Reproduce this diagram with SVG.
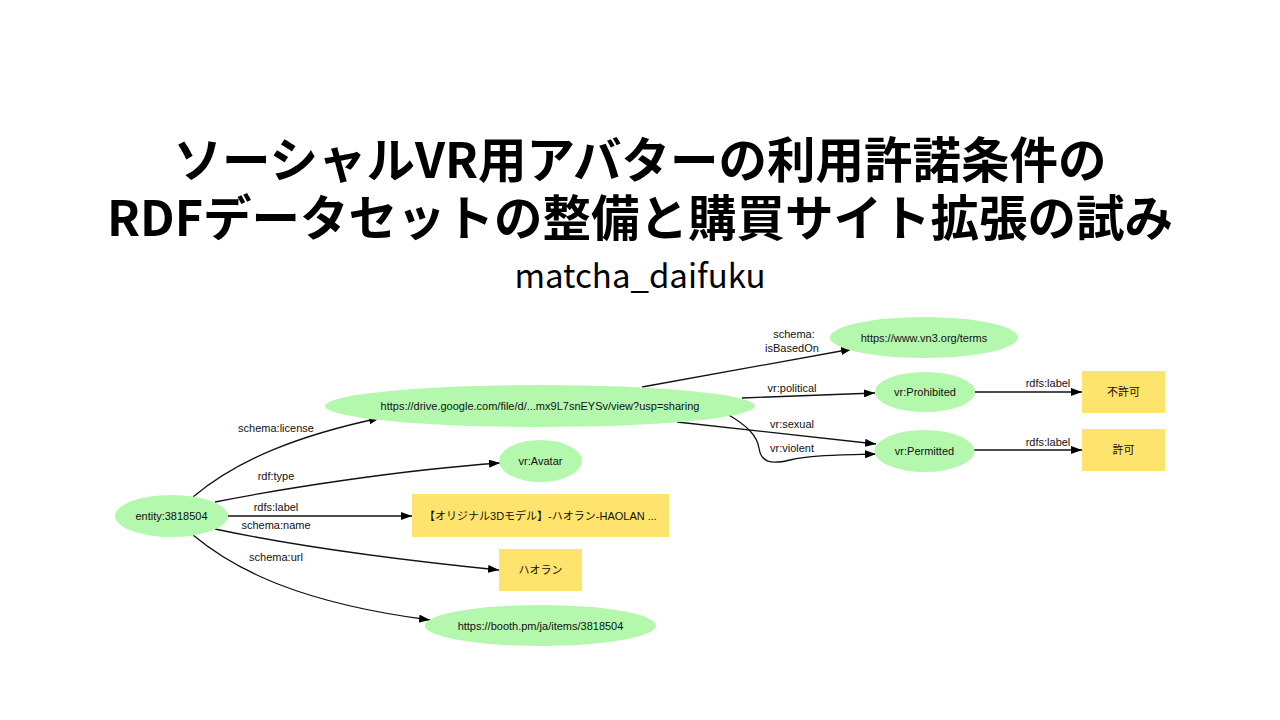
<svg xmlns="http://www.w3.org/2000/svg" width="1280" height="720" viewBox="0 0 1280 720">
<defs>
<style>
.title{font-family:"Noto Sans CJK JP","Noto Sans",sans-serif;font-weight:bold;font-size:48.5px;fill:#000;text-anchor:middle}
.sub{font-family:"Noto Sans CJK JP","Noto Sans",sans-serif;font-size:33px;fill:#000;text-anchor:middle}
.el{fill:#b4f8ad;stroke:none}
.bx{fill:#fee46c;stroke:none}
.t{font-family:"Liberation Sans","Noto Sans CJK JP",sans-serif;font-size:11px;fill:#111;text-anchor:middle}
.e{fill:none;stroke:#111;stroke-width:1.3}
</style>
<marker id="arr" markerUnits="userSpaceOnUse" markerWidth="12" markerHeight="8" refX="11" refY="4" orient="auto" viewBox="0 0 12 8">
<path d="M0,0 L11,4 L0,8 z" fill="#000"/>
</marker>
</defs>
<rect width="1280" height="720" fill="#fff"/>
<text class="title" x="640" y="178">ソーシャルVR用アバターの利用許諾条件の</text>
<text class="title" x="640" y="236">RDFデータセットの整備と購買サイト拡張の試み</text>
<text class="sub" x="640" y="288">matcha_daifuku</text>

<g id="connectors">
<path class="e" marker-end="url(#arr)" d="M193,497 C238,459 300,435 380,418"/>
<path class="e" marker-end="url(#arr)" d="M215,502 C280,489 400,470 500,463"/>
<path class="e" marker-end="url(#arr)" d="M228,516 L412,516"/>
<path class="e" marker-end="url(#arr)" d="M215,529 C290,545 400,560 499,570"/>
<path class="e" marker-end="url(#arr)" d="M193,535 C235,570 300,603 430,620"/>
<path class="e" marker-end="url(#arr)" d="M642,387 L852,349"/>
<path class="e" marker-end="url(#arr)" d="M742,398 L875,393"/>
<path class="e" marker-end="url(#arr)" d="M677,422 L876,444"/>
<path class="e" marker-end="url(#arr)" d="M727,414 C748,426 757,436 759,448 C761,462 770,465 790,460 C810,455 840,455 876,454"/>
<path class="e" marker-end="url(#arr)" d="M975,392 L1082,392"/>
<path class="e" marker-end="url(#arr)" d="M974,450 L1082,450"/>
<text class="t" x="276" y="432">schema:license</text>
<text class="t" x="276" y="480">rdf:type</text>
<text class="t" x="276" y="511">rdfs:label</text>
<text class="t" x="276" y="529">schema:name</text>
<text class="t" x="276" y="561">schema:url</text>
<text class="t" x="794" y="338">schema:</text>
<text class="t" x="792" y="352">isBasedOn</text>
<text class="t" x="792" y="392">vr:political</text>
<text class="t" x="792" y="428">vr:sexual</text>
<text class="t" x="792" y="452">vr:violent</text>
<text class="t" x="1048" y="387">rdfs:label</text>
<text class="t" x="1048" y="446">rdfs:label</text>
</g>

<g id="entity">
<ellipse class="el" cx="171.5" cy="516" rx="56.5" ry="21"/>
<text class="t" x="171.5" y="520">entity:3818504</text>
</g>
<g id="license">
<ellipse class="el" cx="540" cy="406" rx="215" ry="21"/>
<text class="t" x="540" y="410">https://drive.google.com/file/d/...mx9L7snEYSv/view?usp=sharing</text>
</g>
<g id="avatar">
<ellipse class="el" cx="540.5" cy="461" rx="41.5" ry="21"/>
<text class="t" x="540.5" y="465">vr:Avatar</text>
</g>
<g id="label">
<rect class="bx" x="412" y="494" width="257" height="43"/>
<text class="t" x="540.5" y="519.5">【オリジナル3Dモデル】-ハオラン-HAOLAN ...</text>
</g>
<g id="name">
<rect class="bx" x="499" y="549" width="83" height="42"/>
<text class="t" x="540.5" y="574">ハオラン</text>
</g>
<g id="booth">
<ellipse class="el" cx="540.5" cy="625.5" rx="115.5" ry="20.5"/>
<text class="t" x="540.5" y="629.5">https://booth.pm/ja/items/3818504</text>
</g>
<g id="vn3">
<ellipse class="el" cx="924" cy="337.5" rx="94" ry="20.5"/>
<text class="t" x="924" y="341.5">https://www.vn3.org/terms</text>
</g>
<g id="prohibited">
<ellipse class="el" cx="925" cy="392" rx="50" ry="20"/>
<text class="t" x="925" y="396">vr:Prohibited</text>
</g>
<g id="permitted">
<ellipse class="el" cx="924.5" cy="451" rx="50" ry="21"/>
<text class="t" x="924.5" y="455">vr:Permitted</text>
</g>
<g id="fukyoka">
<rect class="bx" x="1082" y="371" width="83" height="42"/>
<text class="t" x="1123.5" y="396">不許可</text>
</g>
<g id="kyoka">
<rect class="bx" x="1082" y="429" width="83" height="42"/>
<text class="t" x="1123.5" y="454">許可</text>
</g>
</svg>
